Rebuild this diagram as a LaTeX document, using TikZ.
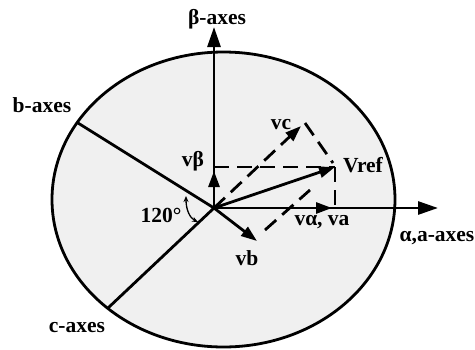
\documentclass[tikz,border=0pt]{standalone}
\usepackage{fontspec}
\setmainfont{Liberation Serif}
\usetikzlibrary{arrows.meta}
\definecolor{discfill}{RGB}{240,240,240}
\begin{document}
\begin{tikzpicture}[x=1pt,y=-1pt,line width=2.8pt,
  lbl/.style={font=\fontsize{21.5}{24}\selectfont\bfseries,inner sep=0pt},
  bigarrow/.style={-{Triangle[length=20pt,width=13pt]}},
  vecarrow/.style={-{Triangle[length=16pt,width=11pt]}},
  dsh/.style={dash pattern=on 15pt off 8pt}]
\useasboundingbox (0,0) rectangle (475,349);
% disc
\draw[fill=discfill] (223.5,199.5) ellipse [x radius=171.5pt,y radius=147.5pt];
% points
\coordinate (O) at (214,208);
\coordinate (betaend) at (214,27);
\coordinate (alphaend) at (438,208);
\coordinate (bend) at (78,123);
\coordinate (cend) at (108,308);
\coordinate (vref) at (335,167);
\coordinate (vbeta) at (214,171);
\coordinate (valpha) at (332,208);
\coordinate (vbtip) at (257,241);
\coordinate (vctip) at (301,126);
\coordinate (proj) at (214,167);
\coordinate (foot) at (335,208);
\coordinate (d1s) at (305,123);
\coordinate (d1e) at (333,163);
\coordinate (d2s) at (265,230);
\coordinate (d2e) at (310,190);
\coordinate (arcs) at (186,196);
\coordinate (arce) at (198,222);
% axes
\draw[bigarrow] (O) -- (betaend);
\draw[bigarrow] (O) -- (alphaend);
\draw (O) -- (bend);
\draw (O) -- (cend);
% dashed construction
\draw[dsh] (proj) -- (vref);
\draw[dsh] (vref) -- (foot);
\draw[dsh] (d1s) -- (d1e);
\draw[dsh] (d2s) -- (d2e);
\draw[dsh,-{Triangle[length=16pt,width=11pt]}] (O) -- (vctip);
% vectors
\draw[vecarrow] (O) -- (vref);
\draw[vecarrow] (O) -- (vbeta);
\draw[vecarrow] (O) -- (valpha);
\draw[vecarrow] (O) -- (vbtip);
% angle mark
\draw[line width=1.3pt,{Stealth[length=6pt,width=5pt]}-{Stealth[length=6pt,width=5pt]}] (arcs) .. controls (186,210) and (190,218) .. (arce);
% labels
\node[lbl] (tbeta) at (217,19) {β-axes};
\node[lbl] (tb) at (42,105) {b-axes};
\node[lbl] (tc) at (77,328) {c-axes};
\node[lbl] (tvb) at (193,161) {vβ};
\node[lbl] (tvc) at (281,125) {vc};
\node[lbl] (tvref) at (363,165) {Vref};
\node[lbl] (tva) at (322,222) {vα, va};
\node[lbl] (tvbb) at (247,258) {vb};
\node[lbl] (talpha) at (437,238) {α,a-axes};
\node[lbl] (tang) at (161,215) {120°};
\end{tikzpicture}
\end{document}
